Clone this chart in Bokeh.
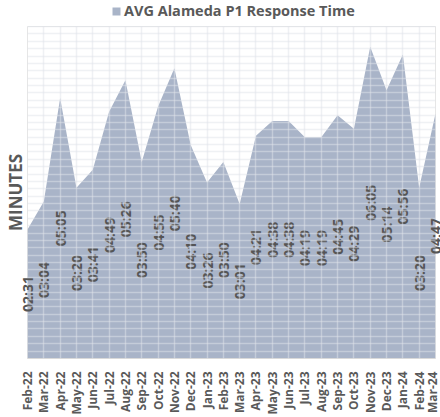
import math
from bokeh.plotting import figure
from bokeh.layouts import column
from bokeh.models import (ColumnDataSource, Range1d, FixedTicker, Legend, LegendItem, Title)
from bokeh.core.properties import value
from bokeh.embed import file_html
from bokeh.resources import INLINE

months = ["Feb-22", "Mar-22", "Apr-22", "May-22", "Jun-22", "Jul-22", "Aug-22", "Sep-22",
          "Oct-22", "Nov-22", "Dec-22", "Jan-23", "Feb-23", "Mar-23", "Apr-23", "May-23",
          "Jun-23", "Jul-23", "Aug-23", "Sep-23", "Oct-23", "Nov-23", "Dec-23", "Jan-24",
          "Feb-24", "Mar-24"]
times = ["02:31", "03:04", "05:05", "03:20", "03:41", "04:49", "05:26", "03:50",
         "04:55", "05:40", "04:10", "03:26", "03:50", "03:01", "04:21", "04:38",
         "04:38", "04:19", "04:19", "04:45", "04:29", "06:05", "05:14", "05:56",
         "03:20", "04:47"]
series_name = "AVG Alameda P1 Response Time"
y_label = "MINUTES"

minutes = [int(t.split(":")[0]) + int(t.split(":")[1]) / 60 for t in times]
xs = list(range(len(months)))
src = ColumnDataSource(dict(x=xs, v=minutes, half=[m / 2 for m in minutes], lab=times))

FONT = "Open Sans"
GRAY = "#595959"
AREA = "#a9b4c8"

# ---- header with legend (series drawn off-view, only its legend entry shows) ----
head = figure(width=440, height=26, output_backend="svg", toolbar_location=None,
              x_axis_type=None, y_axis_type=None,
              x_range=Range1d(-100, -99), y_range=Range1d(-100, -99),
              min_border_left=0, min_border_right=0, min_border_top=0, min_border_bottom=0)
head.outline_line_color = None
head.xgrid.visible = False
head.ygrid.visible = False
key = head.varea(x="x", y1=0, y2="v", source=src, fill_color=AREA)
legend = Legend(items=[LegendItem(label=series_name, renderers=[key])],
                orientation="horizontal", location=(84, 6),
                glyph_width=10, glyph_height=10, label_standoff=3,
                label_text_font=FONT, label_text_font_style="bold",
                label_text_font_size="14.5px", label_text_color=GRAY,
                label_height=18, padding=0, margin=0, spacing=0,
                border_line_color=None, background_fill_alpha=0)
head.add_layout(legend)

# ---- main chart ----
p = figure(width=440, height=391, output_backend="svg", toolbar_location=None,
           x_range=Range1d(0, len(months) - 1), y_range=Range1d(0, 6.48),
           min_border_left=0, min_border_right=5, min_border_top=0, min_border_bottom=0)

area = p.varea(x="x", y1=0, y2="v", source=src, fill_color=AREA, fill_alpha=1.0)

lbl = p.text(x="x", y="half", text="lab", source=src, angle=math.pi / 2,
             text_align="center", text_baseline="middle",
             text_font=value(FONT), text_font_style="bold", text_font_size="14px",
             text_color="#555555")
lbl.level = "overlay"

p.xaxis.ticker = FixedTicker(ticks=xs)
p.xaxis.major_label_overrides = {i: m for i, m in enumerate(months)}
p.xaxis.major_label_orientation = math.pi / 2
p.xaxis.major_label_text_font = FONT
p.xaxis.major_label_text_font_style = "bold"
p.xaxis.major_label_text_font_size = "12px"
p.xaxis.major_label_text_color = GRAY
p.xaxis.major_label_standoff = 7
p.xaxis.major_tick_line_color = None
p.xaxis.minor_tick_line_color = None
p.xaxis.axis_line_color = "#d9d9d9"

p.yaxis.visible = False

for g in (p.xgrid, p.ygrid):
    g.level = "overlay"
    g.grid_line_color = "#dfe3ea"
    g.grid_line_alpha = 0.5
    g.grid_line_width = 1.5
p.ygrid.ticker = FixedTicker(ticks=[i * 0.144 for i in range(46)])

p.outline_line_color = "#e6e6e6"
p.background_fill_color = "white"
p.border_fill_color = "white"

p.add_layout(Title(text=y_label, align="center", text_font=FONT, text_font_style="bold",
                   text_font_size="17px", text_color=GRAY, standoff=2), "left")

layout = column(head, p, spacing=0)
open("out.html", "w").write(file_html(layout, INLINE))
